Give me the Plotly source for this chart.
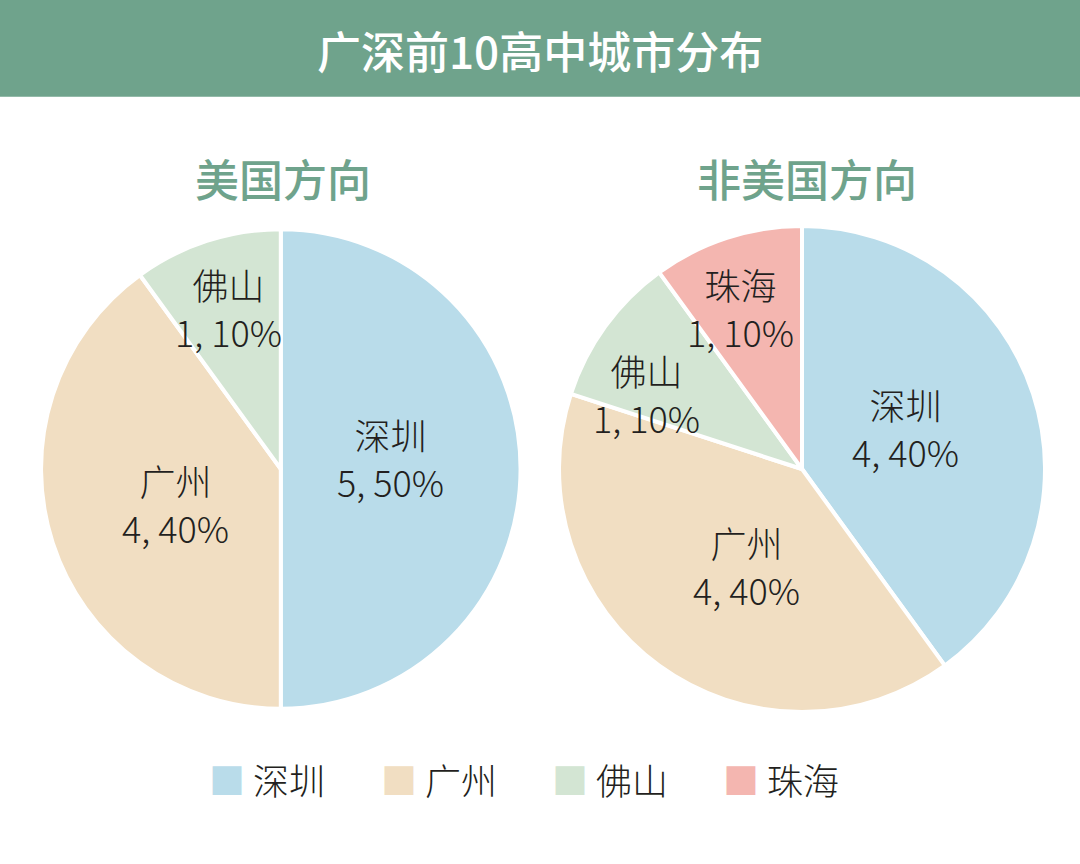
import math
import plotly.graph_objects as go

cities_us = ["深圳", "广州", "佛山"]
counts_us = [5, 4, 1]
pcts_us = ["50%", "40%", "10%"]

cities_non = ["深圳", "广州", "佛山", "珠海"]
counts_non = [4, 4, 1, 1]
pcts_non = ["40%", "40%", "10%", "10%"]

legend_cities = ["深圳", "广州", "佛山", "珠海"]
color_map = {"深圳": "#B9DCEA", "广州": "#F1DEC2", "佛山": "#D3E5D3", "珠海": "#F4B6B0"}

title = "广深前10高中城市分布"
sub_left = "美国方向"
sub_right = "非美国方向"

FONT = "Noto Sans CJK SC"
GREEN = "#6FA38C"
TEXT = "#231F20"
W, H = 1080, 864

dom_left = dict(x=[0.038, 0.482], y=[0.1794, 0.7350])
dom_right = dict(x=[0.5176, 0.9676], y=[0.1759, 0.7384])

# label layout tweaks (degrees added to each slice's mid-angle), style only
shift_left = [-6, 0, 0]
shift_right = [-4, -6, -10, -3]

fig = go.Figure()


def add_pie(cities, counts, pcts, dom, shifts):
    fig.add_trace(go.Pie(
        labels=cities, values=counts, textinfo="none",
        sort=False, direction="clockwise", rotation=0,
        marker=dict(colors=[color_map[c] for c in cities], line=dict(color="white", width=4)),
        domain=dom, hoverinfo="label+value+percent", showlegend=False,
    ))
    # labels placed from the slice angles derived from the data
    total = sum(counts)
    cx = (dom["x"][0] + dom["x"][1]) / 2 * W
    cy = (dom["y"][0] + dom["y"][1]) / 2 * H
    R = min((dom["x"][1] - dom["x"][0]) * W, (dom["y"][1] - dom["y"][0]) * H) / 2
    cum = 0
    for c, n, p, s in zip(cities, counts, pcts, shifts):
        frac = n / total
        theta = 2 * math.pi * (cum + frac / 2) + math.radians(s)
        cum += frac
        f = 0.46 if frac >= 0.25 else 0.71
        px = cx + f * R * math.sin(theta)
        py = cy + f * R * math.cos(theta)
        fig.add_annotation(text=f"{c}<br>{n}, {p}", xref="paper", yref="paper",
                           x=px / W, y=py / H, xanchor="center", yanchor="middle",
                           showarrow=False,
                           font=dict(family=FONT, size=36, color=TEXT, weight=300))


add_pie(cities_us, counts_us, pcts_us, dom_left, shift_left)
add_pie(cities_non, counts_non, pcts_non, dom_right, shift_right)

fig.add_shape(type="rect", xref="paper", yref="paper", x0=0, x1=1, y0=0.888, y1=1,
              fillcolor=GREEN, line=dict(width=0), layer="below")
fig.add_annotation(text=title, xref="paper", yref="paper", x=0.5, y=1 - 50 / H,
                   xanchor="center", yanchor="middle",
                   showarrow=False, font=dict(family=FONT, size=44, color="white", weight=500))
fig.add_annotation(text=sub_left, xref="paper", yref="paper", x=283 / W, y=1 - 178 / H,
                   xanchor="center", yanchor="middle",
                   showarrow=False, font=dict(family=FONT, size=44, color=GREEN, weight=500))
fig.add_annotation(text=sub_right, xref="paper", yref="paper", x=807 / W, y=1 - 178 / H,
                   xanchor="center", yanchor="middle",
                   showarrow=False, font=dict(family=FONT, size=44, color=GREEN, weight=500))

# legend row
legend_x = [207, 379, 550, 721]
for c, lx in zip(legend_cities, legend_x):
    fig.add_annotation(
        text=f"<span style='color:{color_map[c]}'>■</span> {c}",
        xref="paper", yref="paper", x=lx / W, y=1 - 779 / H,
        xanchor="left", yanchor="middle", showarrow=False,
        font=dict(family=FONT, size=36, color=TEXT, weight=300))

fig.update_layout(
    width=W, height=H,
    margin=dict(l=0, r=0, t=0, b=0),
    paper_bgcolor="white",
    showlegend=False,
)

fig.write_html("out.html", config={"displayModeBar": False},
               post_script="document.body.style.margin='0';")
